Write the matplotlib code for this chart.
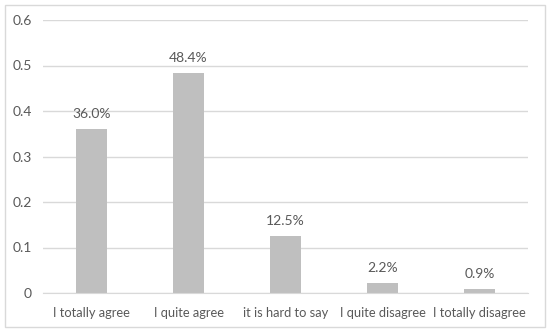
import matplotlib.pyplot as plt
from matplotlib.patches import Rectangle

categories = ["I totally agree", "I quite agree", "it is hard to say",
              "I quite disagree", "I totally disagree"]
values = [0.360, 0.484, 0.125, 0.022, 0.009]
yticks = [0, 0.1, 0.2, 0.3, 0.4, 0.5, 0.6]
ytick_labels = ["0", "0.1", "0.2", "0.3", "0.4", "0.5", "0.6"]

plt.rcParams['font.family'] = ['Lato', 'DejaVu Sans']
txt = '#595959'

fig = plt.figure(figsize=(5.5, 3.34), dpi=100)
fig.patches.append(Rectangle((5/550, 7/334), 540/550, 322/334, transform=fig.transFigure,
                             fill=False, edgecolor='#d9d9d9', linewidth=1))
ax = fig.add_axes([43/550, 41/334, 485/550, 273/334])

x = range(len(categories))
ax.bar(x, values, width=0.31, color='#bfbfbf', zorder=2)
for xi, v in zip(x, values):
    ax.text(xi, v + 0.02, f"{v*100:.1f}%", ha='center', va='bottom', fontsize=10, color=txt)

ax.set_xlim(-0.5, len(categories) - 0.5)
ax.set_ylim(0, 0.6)
ax.set_yticks(yticks)
ax.set_yticklabels(ytick_labels)
ax.set_xticks(list(x))
ax.set_xticklabels(categories)
ax.yaxis.grid(True, color='#d9d9d9', linewidth=1, zorder=0)
for s in ['top', 'right', 'left']:
    ax.spines[s].set_visible(False)
ax.spines['bottom'].set_color('#d9d9d9')
ax.tick_params(axis='both', length=0, colors=txt)
ax.tick_params(axis='y', pad=8, labelsize=10)
ax.tick_params(axis='x', pad=10, labelsize=9.3)

fig.savefig('out.png', dpi=100)
